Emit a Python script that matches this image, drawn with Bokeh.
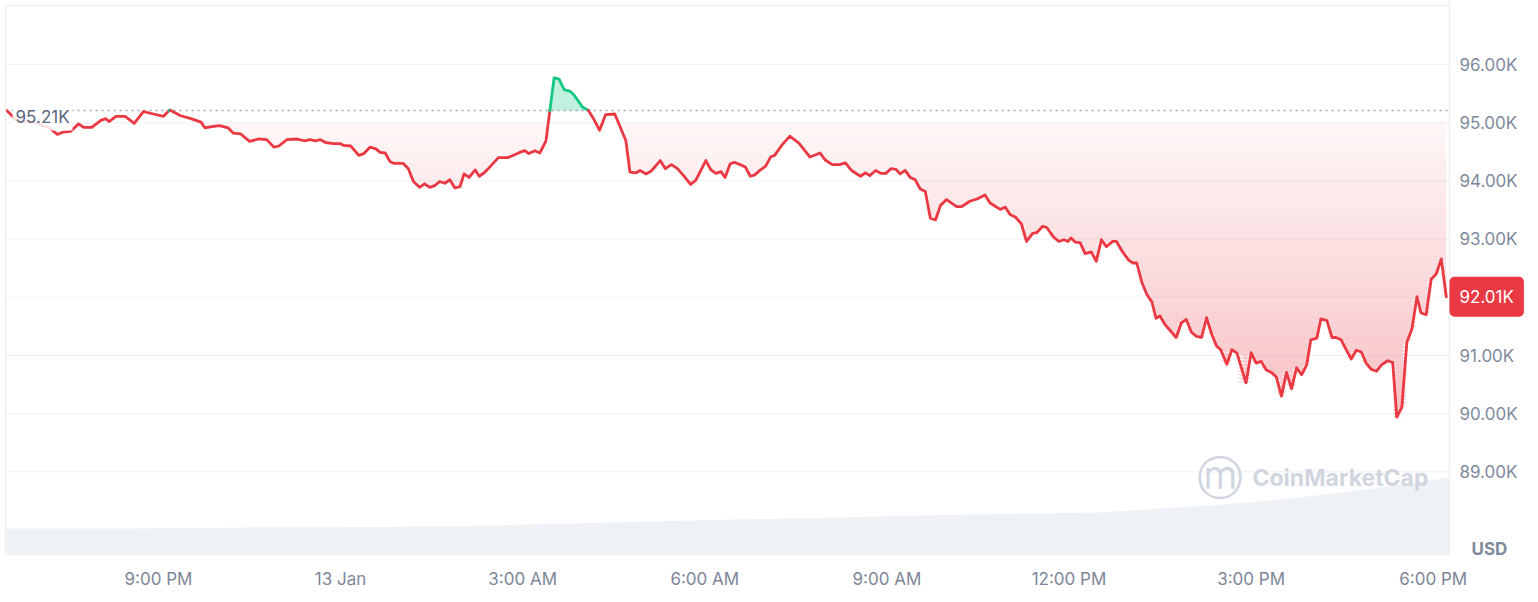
import numpy as np
from bokeh.plotting import figure
from bokeh.models import Range1d, Span, Label
from bokeh.embed import file_html
from bokeh.resources import INLINE
from bokeh.core.properties import value

# ---------------- data ----------------
# minutes after 6:30 PM on 12 Jan
t_min = [0, 10, 27, 43, 50, 56, 63, 71, 76, 84, 93, 98, 101, 108, 117, 126, 135, 145, 155, 161,
         172, 182, 192, 196, 201, 210, 219, 224, 231, 240, 249, 257, 264, 269, 277, 287, 294, 300,
         305, 310, 315, 323, 330, 333, 340, 348, 353,
         359, 365, 369, 374, 379, 383, 392, 397, 402, 408, 413, 418, 423, 428, 433, 438, 443, 448,
         452, 457, 463, 467, 472, 478, 486, 495, 501, 507, 512, 516, 522, 527, 533,
         541, 546, 551, 557, 561, 569, 575, 580, 586, 592, 601, 607, 612, 616, 622, 626, 632, 637,
         646, 651, 657, 663, 669, 676, 681, 691, 696, 701, 706, 710, 715,
         719, 725, 730, 735, 739, 745, 750, 755, 759, 766, 774, 783, 794, 804, 809, 816, 823, 829,
         835, 844, 849, 853, 859, 864, 869, 874, 879, 883, 888, 893, 898, 903, 908, 913, 918, 923,
         929, 939, 944, 952, 959, 967, 972, 982, 987, 992, 997, 1003, 1008, 1014, 1018, 1024, 1028,
         1035, 1040, 1045, 1049, 1052, 1056, 1061,
         1066, 1072, 1077, 1082, 1087, 1093, 1097, 1103, 1109, 1113, 1117, 1122, 1127, 1132, 1136,
         1140, 1145, 1150, 1156, 1161, 1166, 1171, 1176, 1181, 1186, 1191, 1196, 1200, 1206, 1211,
         1216, 1225, 1230, 1235, 1240, 1245, 1250, 1255, 1260, 1265, 1270, 1275, 1280, 1285, 1289,
         1295, 1299, 1305, 1310, 1314, 1319, 1324, 1329, 1334, 1339, 1344, 1349, 1354, 1359, 1365,
         1370, 1374, 1379, 1384, 1389, 1394, 1398, 1403, 1408, 1413, 1418, 1423]

price_k = [95.21, 95.04, 95.01, 94.90, 94.80, 94.84, 94.85, 94.98, 94.92, 94.92, 95.04, 95.07, 95.02,
           95.11, 95.11, 94.99, 95.19, 95.15, 95.11, 95.22, 95.12, 95.07, 95.01, 94.91, 94.93, 94.95,
           94.91, 94.82, 94.81, 94.68, 94.72, 94.71, 94.58, 94.60, 94.71, 94.72, 94.69, 94.71, 94.69,
           94.71, 94.66, 94.64, 94.64, 94.61, 94.60, 94.44, 94.47,
           94.58, 94.55, 94.49, 94.48, 94.33, 94.30, 94.30, 94.21, 93.99, 93.89, 93.95, 93.89, 93.92,
           93.99, 93.96, 94.02, 93.88, 93.90, 94.12, 94.06, 94.19, 94.08, 94.14, 94.25, 94.40, 94.40,
           94.44, 94.49, 94.52, 94.47, 94.52, 94.48, 94.69,
           95.77, 95.75, 95.57, 95.54, 95.47, 95.27, 95.21, 95.07, 94.87, 95.14, 95.15, 94.90, 94.69,
           94.15, 94.14, 94.18, 94.12, 94.17, 94.35, 94.21, 94.28, 94.21, 94.09, 93.94, 94.01, 94.35,
           94.19, 94.13, 94.16, 94.06, 94.29,
           94.32, 94.28, 94.24, 94.08, 94.10, 94.19, 94.25, 94.41, 94.44, 94.61, 94.77, 94.65, 94.41,
           94.48, 94.36, 94.28, 94.28, 94.31, 94.18, 94.08, 94.14, 94.09, 94.18, 94.13, 94.13, 94.21,
           94.20, 94.12, 94.18, 94.06, 94.02, 93.86, 93.82, 93.36, 93.33, 93.58, 93.68, 93.56, 93.56,
           93.65, 93.69, 93.76, 93.62, 93.51, 93.55, 93.42, 93.38, 93.26, 92.96, 93.10, 93.11, 93.22,
           93.20, 93.03, 92.96, 92.99, 92.96, 93.02, 92.95, 92.94,
           92.75, 92.78, 92.62, 92.99, 92.87, 92.96, 92.96, 92.78, 92.64, 92.59, 92.59, 92.26, 92.05,
           91.92, 91.64, 91.68, 91.53, 91.43, 91.31, 91.56, 91.62, 91.40, 91.33, 91.31, 91.65, 91.37,
           91.16, 91.10, 90.85, 91.10, 91.04, 90.53, 91.05, 90.87, 90.90, 90.75, 90.71, 90.63, 90.30,
           90.71, 90.43, 90.79, 90.67, 90.84, 91.27, 91.30, 91.63, 91.60, 91.31, 91.31, 91.27, 91.10,
           90.94, 91.09, 91.06, 90.86, 90.76, 90.73, 90.84, 90.91, 90.88, 89.94, 90.11, 91.23, 91.46,
           92.01, 91.73, 91.70, 92.31, 92.40, 92.66, 92.01]

open_price_k = 95.21
last_price_k = 92.01

# 24h volume (USD billions), hourly
vol_t_min = [0, 60, 120, 180, 240, 300, 360, 420, 480, 540, 600, 660, 720, 780, 840, 900, 960,
             1020, 1080, 1140, 1200, 1260, 1320, 1380, 1426]
volume_b = [9.9, 9.9, 9.9, 10.0, 10.2, 10.2, 10.4, 10.6, 11.0, 11.5, 12.1, 12.6, 13.2, 13.5, 14.1,
            14.6, 15.0, 15.4, 15.7, 17.2, 18.6, 20.5, 23.0, 26.0, 28.5]

x_tick_min = [150, 330, 510, 690, 870, 1050, 1230, 1410]
x_tick_labels = ["9:00 PM", "13 Jan", "3:00 AM", "6:00 AM", "9:00 AM", "12:00 PM", "3:00 PM", "6:00 PM"]
y_ticks_k = [89, 90, 91, 92, 93, 94, 95, 96]

# ---------------- styling / layout ----------------
RED = "#ea3943"
GREEN = "#16c784"
GRID = "#eff2f5"
BORDER = "#ebedf0"
AXIS_TXT = "#808a9d"
FONT = "Inter"

W, H = 1538, 555           # frame size in px (frame holds plot + price-scale column)
X0, X1 = -6.2, 1514.1      # minutes shown across the frame
Y0, Y1 = 87564.0, 97100.0  # price shown across the frame
PLOT_END = 1426.1          # minutes where the plot area ends (price scale starts)
PLOT_START = -1.2          # minutes at the plot's left border

mpp = (X1 - X0) / W        # minutes per pixel
dpp = (Y1 - Y0) / H        # dollars per pixel

p = figure(frame_width=W, frame_height=H,
           x_range=Range1d(X0, X1), y_range=Range1d(Y0, Y1),
           output_backend="svg", toolbar_location=None,
           min_border_left=0, min_border_top=0, min_border_right=0, min_border_bottom=47,
           background_fill_color="white", border_fill_color="white", outline_line_color=None)
p.extra_y_ranges = {"vol": Range1d(0, 200 * H / 547)}
p.yaxis.visible = False
p.xgrid.visible = False
p.ygrid.visible = False

# grid lines (stop at the price scale)
y_ticks = [k * 1000 for k in y_ticks_k]
p.segment(x0=PLOT_START, x1=PLOT_END, y0=y_ticks, y1=y_ticks, line_color=GRID, line_width=1)

# volume area
p.varea(x=vol_t_min, y1=0, y2=volume_b, y_range_name="vol", fill_color="#eef1f5", fill_alpha=1.0)

# price data with baseline crossings inserted
t = np.array(t_min, dtype=float)
pr = np.array(price_k, dtype=float) * 1000.0
base = open_price_k * 1000.0
xs = [t[0]]
ys = [pr[0]]
for i in range(1, len(t)):
    y0, y1 = pr[i - 1], pr[i]
    if (y0 - base) * (y1 - base) < 0:
        f = (base - y0) / (y1 - y0)
        xs.append(t[i - 1] + f * (t[i] - t[i - 1]))
        ys.append(base)
    xs.append(t[i])
    ys.append(pr[i])
xs = np.array(xs)
ys = np.array(ys)

# red gradient fill below, emulated with bands
fill_top = 95000.0
band = 60.0
b = fill_top
lowest = ys.min()
while b > lowest:
    a = b - band
    mid = 0.5 * (a + b)
    alpha = min(0.32, 0.04 + 0.056 * (fill_top - mid) / 1000.0)
    p.varea(x=xs, y1=np.clip(ys, a, b), y2=b, fill_color=RED, fill_alpha=alpha)
    b = a

# green fill above baseline
p.varea(x=xs, y1=base, y2=np.maximum(ys, base), fill_color=GREEN, fill_alpha=0.27)

# dotted open-price line
p.segment(x0=[PLOT_START], x1=[PLOT_END], y0=[base], y1=[base], line_color="#9aa2b1",
          line_width=1.3, line_dash="2 4")

# line split into green / red runs
seg_xs, seg_ys, seg_cols = [], [], []
cur_x, cur_y, cur_c = [xs[0]], [ys[0]], None
for i in range(1, len(xs)):
    c = GREEN if 0.5 * (ys[i - 1] + ys[i]) > base else RED
    if cur_c is None or c == cur_c:
        cur_c = c
        cur_x.append(xs[i]); cur_y.append(ys[i])
    else:
        seg_xs.append(cur_x); seg_ys.append(cur_y); seg_cols.append(cur_c)
        cur_x, cur_y, cur_c = [xs[i - 1], xs[i]], [ys[i - 1], ys[i]], c
seg_xs.append(cur_x); seg_ys.append(cur_y); seg_cols.append(cur_c)
p.multi_line(xs=seg_xs, ys=seg_ys, line_color=seg_cols, line_width=2.8,
             line_join="round", line_cap="round")

# plot borders: left, top, right separator
top_y = Y1 - 5 * dpp
p.segment(x0=[PLOT_START, PLOT_START, PLOT_END], x1=[PLOT_START, PLOT_END, PLOT_END],
          y0=[Y0, top_y, Y0], y1=[top_y, top_y, Y1],
          line_color=BORDER, line_width=1.2)

# price scale labels
p.text(x=PLOT_END, y=y_ticks, text=[f"{k:.2f}K" for k in y_ticks_k], x_offset=10,
       text_font=value(FONT), text_font_size="17px", text_color=AXIS_TXT,
       text_baseline="middle", text_align="left")

# x axis
xa = p.xaxis[0]
xa.ticker = x_tick_min
xa.major_label_overrides = {float(tk): lab for tk, lab in zip(x_tick_min, x_tick_labels)}
xa.axis_line_color = None
xa.major_tick_line_color = None
xa.minor_tick_line_color = None
xa.major_label_standoff = 7
xa.major_label_text_font = FONT
xa.major_label_text_font_size = "17px"
xa.major_label_text_color = "#7d8699"

# labels
p.add_layout(Label(x=PLOT_START, y=base, x_offset=7, y_offset=-7, text=f"{open_price_k:.2f}K",
                   text_font=FONT, text_font_size="17px", text_color="#58667e",
                   text_baseline="middle", text_align="left",
                   background_fill_color="white", background_fill_alpha=0.85, padding=3))
p.add_layout(Label(x=PLOT_END, y=last_price_k * 1000, x_offset=0, text=f"{last_price_k:.2f}K",
                   text_font=FONT, text_font_size="17px", text_color="white",
                   text_baseline="middle", text_align="left",
                   background_fill_color=RED, background_fill_alpha=1.0,
                   padding=10, border_radius=5))
p.add_layout(Label(x=PLOT_END, y=Y0, x_offset=22, y_offset=7, text="USD",
                   text_font=FONT, text_font_size="17px", text_font_style="bold",
                   text_color=AXIS_TXT, text_baseline="middle", text_align="left"))
# watermark
p.add_layout(Label(x=PLOT_END, y=Y0, x_offset=-197, y_offset=78, text="CoinMarketCap",
                   text_font=FONT, text_font_size="23px", text_font_style="bold",
                   text_color="#d0d5df", text_baseline="middle", text_align="left"))
p.add_layout(Label(x=PLOT_END, y=Y0, x_offset=-252, y_offset=78, text="ⓜ",
                   text_font="DejaVu Sans", text_font_size="46px",
                   text_color="#d0d5df", text_baseline="middle", text_align="left"))

open("out.html", "w").write(file_html(p, INLINE))
